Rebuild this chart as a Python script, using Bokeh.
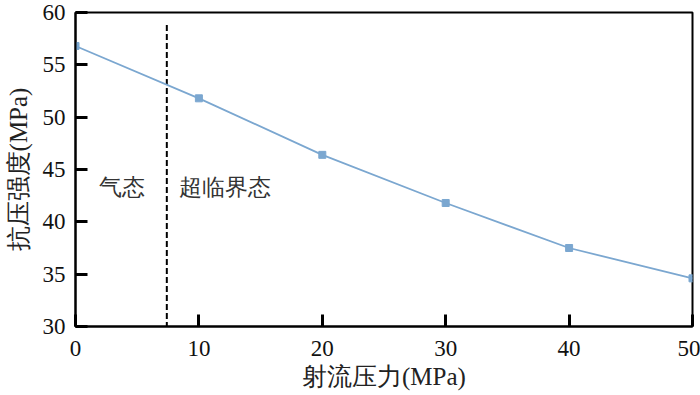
from bokeh.plotting import figure
from bokeh.models import Range1d, FixedTicker, Label
from bokeh.embed import file_html
from bokeh.resources import INLINE

pressure = [0, 10, 20, 30, 40, 50]
strength = [56.8, 51.8, 46.4, 41.8, 37.5, 34.6]
boundary_x = [7.4, 7.4]
boundary_y = [58.8, 30.0]
x_ticks = [0, 10, 20, 30, 40, 50]
y_ticks = [30, 35, 40, 45, 50, 55, 60]
x_title = "射流压力(MPa)"
y_title = "抗压强度(MPa)"
region_labels = ["气态", "超临界态"]
region_x = [1.9, 8.4]
region_y = 43.3

FONT = "Liberation Serif"

p = figure(width=700, height=395, output_backend="svg", toolbar_location=None,
           x_range=Range1d(0, 50), y_range=Range1d(30, 60),
           min_border_left=75, min_border_right=8, min_border_top=12, min_border_bottom=69)
p.grid.visible = False
p.background_fill_color = "white"
p.outline_line_color = "black"
p.outline_line_width = 2

for ax in (p.xaxis[0], p.yaxis[0]):
    ax.axis_line_color = "black"
    ax.axis_line_width = 2
    ax.major_tick_in = 12
    ax.major_tick_out = 0
    ax.major_tick_line_width = 3
    ax.major_tick_line_color = "black"
    ax.minor_tick_line_color = None
    ax.major_label_text_font = FONT
    ax.major_label_text_font_size = "23px"
    ax.major_label_text_color = "#111111"
    ax.axis_label_text_font = FONT
    ax.axis_label_text_font_size = "25px"
    ax.axis_label_text_font_style = "normal"
    ax.axis_label_text_color = "#222222"

p.xaxis.ticker = FixedTicker(ticks=x_ticks)
p.yaxis.ticker = FixedTicker(ticks=y_ticks)
p.xaxis.axis_label = x_title
p.yaxis.axis_label = y_title
p.xaxis.major_label_standoff = 14
p.xaxis.axis_label_standoff = 4
p.yaxis.major_label_standoff = 10
p.yaxis.axis_label_standoff = 8

p.line(boundary_x, boundary_y, line_color="black", line_width=2, line_dash="6 3")
p.line(pressure, strength, line_color="#7BA7D0", line_width=1.8)
p.scatter(pressure, strength, marker="square", size=7, fill_color="#7BA7D0", line_color="#7BA7D0")

for t, xx in zip(region_labels, region_x):
    p.add_layout(Label(x=xx, y=region_y, text=t, text_font=FONT, text_font_size="23px",
                       text_color="#333333", text_baseline="middle"))

open("out.html", "w").write(file_html(p, INLINE))
